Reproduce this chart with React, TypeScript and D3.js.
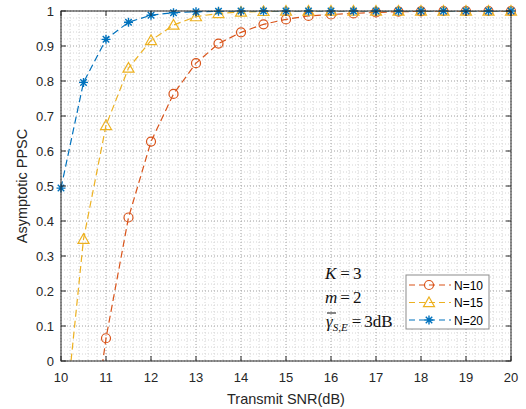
import {useEffect, useRef} from "react";
import * as d3 from 'd3';

// Transmit SNR (dB) at which the curves were evaluated
const snr = [10, 10.5, 11, 11.5, 12, 12.5, 13, 13.5, 14, 14.5, 15, 15.5, 16, 16.5, 17, 17.5, 18, 18.5, 19, 19.5, 20];

// Asymptotic PPSC (values below 0 are clipped by the axes)
const ppscN10 = [-0.95, -0.40, 0.065, 0.41, 0.627, 0.763, 0.851, 0.907, 0.939, 0.962, 0.976, 0.986, 0.99, 0.993, 0.996, 0.998, 0.999, 1, 1, 1, 1];
const ppscN15 = [-0.28, 0.348, 0.673, 0.837, 0.916, 0.96, 0.984, 0.993, 0.997, 0.999, 1, 1, 1, 1, 1, 1, 1, 1, 1, 1, 1];
const ppscN20 = [0.494, 0.796, 0.919, 0.968, 0.988, 0.995, 0.998, 0.999, 1, 1, 1, 1, 1, 1, 1, 1, 1, 1, 1, 1, 1];

const xTicks = [10, 11, 12, 13, 14, 15, 16, 17, 18, 19, 20];
const yTicks = [0, 0.1, 0.2, 0.3, 0.4, 0.5, 0.6, 0.7, 0.8, 0.9, 1];
const yTickLabels = ['0', '0.1', '0.2', '0.3', '0.4', '0.5', '0.6', '0.7', '0.8', '0.9', '1'];

const seriesNames = ['N=10', 'N=15', 'N=20'];

export default function App() {
  const svgRef = useRef<SVGSVGElement>(null);
  const width = 526;
  const height = 409;

  useEffect(() => {
    d3.select(svgRef.current).selectAll('*').remove();
    const svg = d3.select(svgRef.current)
      .attr('width', width)
      .attr('height', height);

    const margin = {top: 11, right: 15, bottom: 48, left: 61};
    const innerWidth = width - margin.left - margin.right;
    const innerHeight = height - margin.top - margin.bottom;
    const axisColor = '#262626';
    const font = '"Liberation Sans", Arial, sans-serif';

    const x = d3.scaleLinear().domain([10, 20]).range([0, innerWidth]);
    const y = d3.scaleLinear().domain([0, 1]).range([innerHeight, 0]);

    svg.append('rect').attr('width', width).attr('height', height).attr('fill', '#fff');

    const defs = svg.append('defs');
    defs.append('clipPath').attr('id', 'plot-clip')
      .append('rect').attr('width', innerWidth).attr('height', innerHeight);

    const g = svg.append('g')
      .attr('transform', `translate(${margin.left},${margin.top})`);

    // minor grid
    const minorX = d3.range(10, 20.001, 0.2).filter(v => Math.abs(v - Math.round(v)) > 1e-6);
    const minorY = d3.range(0, 1.0001, 0.02).filter(v => Math.abs(v * 10 - Math.round(v * 10)) > 1e-6);
    const grid = g.append('g');
    grid.selectAll('.mx').data(minorX).join('line')
      .attr('x1', d => x(d)).attr('x2', d => x(d))
      .attr('y1', 0).attr('y2', innerHeight)
      .attr('stroke', '#d4d4d4').attr('stroke-dasharray', '1,2');
    grid.selectAll('.my').data(minorY).join('line')
      .attr('y1', d => y(d)).attr('y2', d => y(d))
      .attr('x1', 0).attr('x2', innerWidth)
      .attr('stroke', '#d4d4d4').attr('stroke-dasharray', '1,2');
    // major grid
    grid.selectAll('.gx').data(xTicks).join('line')
      .attr('x1', d => x(d)).attr('x2', d => x(d))
      .attr('y1', 0).attr('y2', innerHeight)
      .attr('stroke', '#a0a0a0').attr('stroke-dasharray', '1,2');
    grid.selectAll('.gy').data(yTicks).join('line')
      .attr('y1', d => y(d)).attr('y2', d => y(d))
      .attr('x1', 0).attr('x2', innerWidth)
      .attr('stroke', '#a0a0a0').attr('stroke-dasharray', '1,2');

    const series = [
      {name: seriesNames[0], values: ppscN10, color: '#D95319', marker: 'circle'},
      {name: seriesNames[1], values: ppscN15, color: '#EDB120', marker: 'triangle'},
      {name: seriesNames[2], values: ppscN20, color: '#0072BD', marker: 'star'},
    ];

    const drawMarker = (sel: any, kind: string, color: string, cx: number, cy: number) => {
      if (kind === 'circle') {
        sel.append('circle').attr('cx', cx).attr('cy', cy).attr('r', 4.5)
          .attr('fill', 'none').attr('stroke', color).attr('stroke-width', 1.2);
      } else if (kind === 'triangle') {
        const s = 5.5;
        sel.append('path')
          .attr('d', `M${cx},${cy - s} L${cx + s},${cy + s * 0.75} L${cx - s},${cy + s * 0.75} Z`)
          .attr('fill', 'none').attr('stroke', color).attr('stroke-width', 1.2);
      } else {
        const s = 4.5;
        const d = s * 0.72;
        sel.append('path')
          .attr('d', `M${cx - s},${cy} L${cx + s},${cy} M${cx},${cy - s} L${cx},${cy + s} M${cx - d},${cy - d} L${cx + d},${cy + d} M${cx - d},${cy + d} L${cx + d},${cy - d}`)
          .attr('fill', 'none').attr('stroke', color).attr('stroke-width', 1.4);
      }
    };

    const line = d3.line<number>()
      .x((_, i) => x(snr[i]))
      .y(d => y(d));

    series.forEach(s => {
      g.append('path')
        .datum(s.values)
        .attr('clip-path', 'url(#plot-clip)')
        .attr('fill', 'none')
        .attr('stroke', s.color)
        .attr('stroke-width', 1.2)
        .attr('stroke-dasharray', '7,4')
        .attr('d', line);
      const mg = g.append('g');
      s.values.forEach((v, i) => {
        if (v >= 0 && v <= 1) drawMarker(mg, s.marker, s.color, x(snr[i]), y(v));
      });
    });

    // box and ticks
    g.append('rect').attr('width', innerWidth).attr('height', innerHeight)
      .attr('fill', 'none').attr('stroke', axisColor).attr('stroke-width', 1);
    const tl = 5;
    xTicks.forEach(t => {
      g.append('line').attr('x1', x(t)).attr('x2', x(t)).attr('y1', innerHeight).attr('y2', innerHeight - tl).attr('stroke', axisColor);
      g.append('line').attr('x1', x(t)).attr('x2', x(t)).attr('y1', 0).attr('y2', tl).attr('stroke', axisColor);
      g.append('text').attr('x', x(t)).attr('y', innerHeight + 21)
        .attr('text-anchor', 'middle').attr('font-family', font).attr('font-size', 13)
        .attr('fill', axisColor).text(t);
    });
    yTicks.forEach((t, i) => {
      g.append('line').attr('x1', 0).attr('x2', tl).attr('y1', y(t)).attr('y2', y(t)).attr('stroke', axisColor);
      g.append('line').attr('x1', innerWidth).attr('x2', innerWidth - tl).attr('y1', y(t)).attr('y2', y(t)).attr('stroke', axisColor);
      g.append('text').attr('x', -7).attr('y', y(t) + 4.5)
        .attr('text-anchor', 'end').attr('font-family', font).attr('font-size', 13)
        .attr('fill', axisColor).text(yTickLabels[i]);
    });

    svg.append('text')
      .attr('x', margin.left + innerWidth / 2).attr('y', 404)
      .attr('text-anchor', 'middle').attr('font-family', font).attr('font-size', 14.5)
      .attr('fill', axisColor).text('Transmit SNR(dB)');
    svg.append('text')
      .attr('transform', `translate(27,${margin.top + innerHeight / 2}) rotate(-90)`)
      .attr('text-anchor', 'middle').attr('font-family', font).attr('font-size', 14.5)
      .attr('fill', axisColor).text('Asymptotic PPSC');

    // annotation
    const serif = '"Liberation Serif", "Times New Roman", serif';
    const ann = svg.append('g').attr('font-family', serif).attr('font-size', 17).attr('fill', '#111');
    const t1 = ann.append('text').attr('x', 325).attr('y', 279);
    t1.append('tspan').attr('font-style', 'italic').text('K');
    t1.append('tspan').attr('dx', 4).text('=');
    t1.append('tspan').attr('dx', 3).text('3');
    const t2 = ann.append('text').attr('x', 325).attr('y', 303);
    t2.append('tspan').attr('font-style', 'italic').text('m');
    t2.append('tspan').attr('dx', 3).text('=');
    t2.append('tspan').attr('dx', 3).text('2');
    const t3 = ann.append('text').attr('x', 326).attr('y', 327);
    t3.append('tspan').attr('font-style', 'italic').text('γ');
    t3.append('tspan').attr('font-style', 'italic').attr('font-size', 11).attr('dy', 4).text('S,E');
    t3.append('tspan').attr('dx', 4).attr('dy', -4).text('=');
    t3.append('tspan').attr('dx', 3).text('3dB');
    ann.append('line').attr('x1', 327).attr('x2', 336).attr('y1', 313).attr('y2', 313)
      .attr('stroke', '#111').attr('stroke-width', 1);

    // legend
    const lg = svg.append('g').attr('transform', 'translate(406,275)');
    lg.append('rect').attr('width', 83).attr('height', 54)
      .attr('fill', '#fff').attr('stroke', '#8c8c8c').attr('stroke-width', 1);
    series.forEach((s, i) => {
      const ly = 10 + i * 17.5;
      lg.append('line').attr('x1', 3).attr('x2', 45).attr('y1', ly).attr('y2', ly)
        .attr('stroke', s.color).attr('stroke-width', 1.2).attr('stroke-dasharray', '6,4');
      drawMarker(lg, s.marker, s.color, 23, ly);
      lg.append('text').attr('x', 48).attr('y', ly + 4.5)
        .attr('font-family', font).attr('font-size', 12).attr('fill', '#000').text(s.name);
    });
  }, []);

  return (
    <div style={{position: 'absolute', left: 0, top: 0}}>
      <svg ref={svgRef}></svg>
    </div>
  );
}
